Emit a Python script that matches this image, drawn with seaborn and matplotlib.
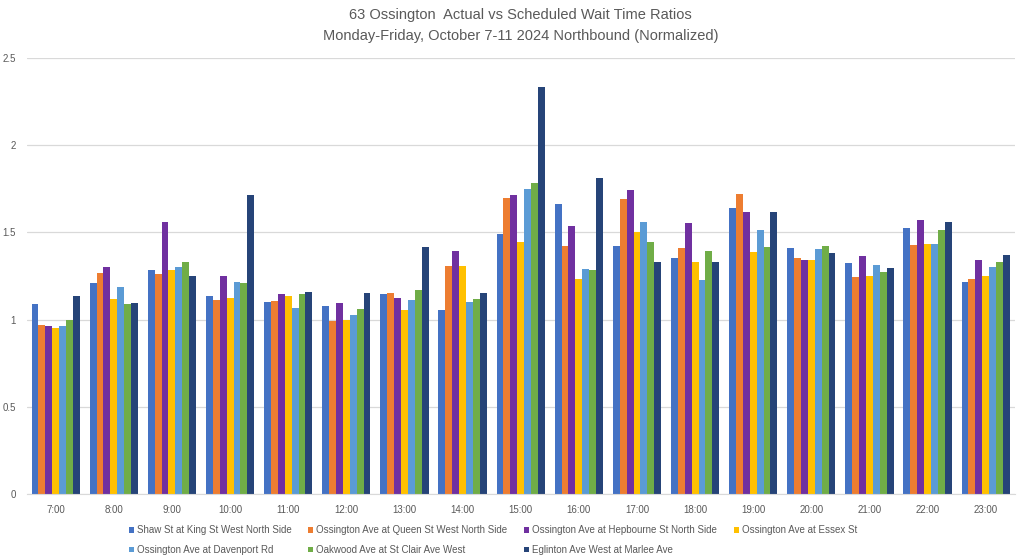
import pandas as pd
import matplotlib
matplotlib.use("Agg")
import matplotlib.pyplot as plt
import matplotlib.ticker as mticker
import seaborn as sns

horas = ['7:00', '8:00', '9:00', '10:00', '11:00', '12:00', '13:00', '14:00', '15:00',
         '16:00', '17:00', '18:00', '19:00', '20:00', '21:00', '22:00', '23:00']

paradas = ['Shaw St at King St West North Side',
           'Ossington Ave at Queen St West North Side',
           'Ossington Ave at Hepbourne St North Side',
           'Ossington Ave at Essex St',
           'Ossington Ave at Davenport Rd',
           'Oakwood Ave at St Clair Ave West',
           'Eglinton Ave West at Marlee Ave']

shaw = [1.092, 1.207, 1.284, 1.138, 1.103, 1.077, 1.146, 1.054, 1.492, 1.661, 1.420, 1.356, 1.642, 1.410, 1.324, 1.527, 1.215]
queen = [0.971, 1.270, 1.261, 1.115, 1.107, 0.990, 1.155, 1.310, 1.699, 1.420, 1.692, 1.410, 1.718, 1.351, 1.247, 1.425, 1.234]
hepbourne = [0.964, 1.303, 1.561, 1.249, 1.146, 1.094, 1.126, 1.391, 1.715, 1.536, 1.743, 1.554, 1.617, 1.343, 1.362, 1.573, 1.339]
essex = [0.954, 1.117, 1.287, 1.121, 1.138, 1.000, 1.056, 1.308, 1.446, 1.230, 1.500, 1.330, 1.387, 1.343, 1.251, 1.433, 1.251]
davenport = [0.962, 1.188, 1.299, 1.218, 1.069, 1.029, 1.115, 1.103, 1.749, 1.289, 1.557, 1.226, 1.511, 1.404, 1.314, 1.433, 1.303]
oakwood = [0.996, 1.092, 1.333, 1.209, 1.149, 1.061, 1.167, 1.119, 1.785, 1.287, 1.446, 1.393, 1.414, 1.421, 1.272, 1.511, 1.330]
eglinton = [1.138, 1.096, 1.249, 1.715, 1.159, 1.153, 1.418, 1.153, 2.333, 1.814, 1.333, 1.333, 1.617, 1.381, 1.297, 1.557, 1.372]

cores = ['#4472C4', '#ED7D31', '#7030A0', '#FFC000', '#5B9BD5', '#70AD47', '#264478']

valores = [shaw, queen, hepbourne, essex, davenport, oakwood, eglinton]
linhas = []
for parada, serie in zip(paradas, valores):
    for hora, v in zip(horas, serie):
        linhas.append({'hora': hora, 'parada': parada, 'ratio': v})
df = pd.DataFrame(linhas)

sns.set_style('white')
plt.rcParams['font.family'] = ['Liberation Sans', 'DejaVu Sans']
cinza = '#595959'

fig = plt.figure(figsize=(10.24, 5.57), dpi=100)
ax = fig.add_axes([0.026, 0.113, 0.965, 0.783])

sns.barplot(data=df, x='hora', y='ratio', hue='parada', order=horas, hue_order=paradas,
            palette=cores, width=0.83, saturation=1, linewidth=0, ax=ax, legend=True)

ax.set_ylim(0, 2.5)
ax.set_xlim(-0.5, len(horas) - 0.5)
ax.yaxis.set_major_locator(mticker.MultipleLocator(0.5))
ax.yaxis.set_major_formatter(mticker.FuncFormatter(lambda v, p: '%g' % v))
ax.grid(axis='y', color='#D9D9D9', linewidth=0.9)
ax.set_axisbelow(True)
for s in ['top', 'right', 'left']:
    ax.spines[s].set_visible(False)
ax.spines['bottom'].set_color('#D9D9D9')
ax.tick_params(axis='both', length=0, labelsize=7, colors=cinza)
ax.tick_params(axis='x', pad=8)
ax.tick_params(axis='y', pad=8)
ax.set_xlabel('')
ax.set_ylabel('')

ax.set_title('63 Ossington  Actual vs Scheduled Wait Time Ratios\nMonday-Friday, October 7-11 2024 Northbound (Normalized)',
             fontsize=10.5, color=cinza, pad=13, linespacing=1.6)

handles, labels = ax.get_legend_handles_labels()
ax.get_legend().remove()
ordem = [0, 4, 1, 5, 2, 6, 3]
fig.legend([handles[i] for i in ordem], [labels[i] for i in ordem], ncol=4,
           loc='lower left', bbox_to_anchor=(0.117, -0.012), frameon=False,
           fontsize=7, labelcolor=cinza, handlelength=0.55, handleheight=0.55,
           handletextpad=0.3, columnspacing=1.7, labelspacing=1.0)

plt.savefig('out.png', dpi=100)
